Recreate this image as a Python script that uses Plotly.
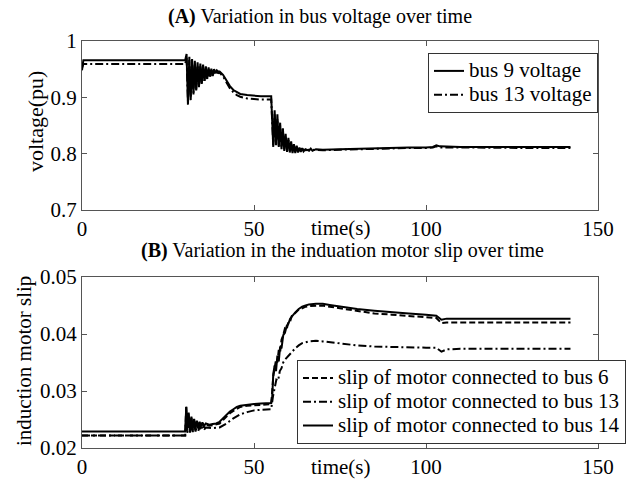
import plotly.graph_objects as go

# ---------------- (A) bus voltages ----------------
t_bus9 = [0, 0.4, 30.0, 30.4, 30.8, 31.2, 31.6, 32.0, 32.4, 32.8, 33.2, 33.6, 34.0, 34.4, 34.8,
          35.2, 35.6, 36.0, 36.4, 36.8, 37.2, 37.6, 38.0, 38.4, 38.8, 39.2, 39.6, 40.0,
          41, 42, 43, 44, 45, 46, 48, 50, 52, 55.0,
          55.3, 55.6, 56.0, 56.4, 56.8, 57.2, 57.6, 58.0, 58.4, 58.8, 59.2, 59.6, 60.0, 60.4,
          60.8, 61.2, 61.6, 62.0, 62.4, 62.8, 63.2, 63.6, 64.0, 64.4, 65, 66, 66.5, 67, 68,
          70, 75, 80, 85, 90, 95, 100, 102, 103, 104, 110, 120, 130, 142]
v_bus9 = [0.948, 0.966, 0.966, 0.977, 0.887, 0.972, 0.895, 0.968, 0.905, 0.965, 0.912, 0.962,
          0.918, 0.960, 0.924, 0.958, 0.929, 0.955, 0.933, 0.953, 0.937, 0.951, 0.940, 0.950,
          0.943, 0.948, 0.946, 0.946,
          0.940, 0.930, 0.920, 0.913, 0.909, 0.906, 0.904, 0.903, 0.902, 0.902,
          0.860, 0.812, 0.877, 0.815, 0.870, 0.812, 0.855, 0.808, 0.845, 0.805, 0.835, 0.803,
          0.828, 0.802, 0.822, 0.801, 0.817, 0.801, 0.814, 0.802, 0.811, 0.803, 0.810, 0.804,
          0.808, 0.805, 0.809, 0.805, 0.808,
          0.807, 0.808, 0.809, 0.810, 0.810, 0.811, 0.811, 0.812, 0.815, 0.813, 0.812, 0.812,
          0.811, 0.812]

t_bus13 = [0, 0.4, 30.0, 30.4, 30.8, 31.2, 31.6, 32.0, 32.4, 32.8, 33.2, 33.6, 34.0, 34.4,
           34.8, 35.2, 35.6, 36.0, 36.4, 36.8, 37.2, 37.6, 38.0, 38.4, 38.8, 39.2, 39.6, 40.0,
           41, 42, 43, 44, 45, 46, 48, 50, 52, 55.0,
           55.3, 55.6, 56.0, 56.4, 56.8, 57.2, 57.6, 58.0, 58.4, 58.8, 59.2, 59.6, 60.0, 60.4,
           60.8, 61.2, 61.6, 62.0, 62.4, 62.8, 63.2, 63.6, 64.0, 65, 66, 68,
           70, 75, 80, 85, 90, 95, 100, 102, 103, 104, 110, 120, 130, 142]
v_bus13 = [0.952, 0.959, 0.959, 0.970, 0.893, 0.966, 0.900, 0.962, 0.908, 0.959, 0.914,
           0.957, 0.920, 0.955, 0.925, 0.953, 0.929, 0.951, 0.932, 0.949, 0.935, 0.947, 0.938,
           0.946, 0.940, 0.945, 0.943, 0.944,
           0.937, 0.926, 0.916, 0.909, 0.904, 0.901, 0.898, 0.897, 0.896, 0.896,
           0.855, 0.815, 0.870, 0.817, 0.862, 0.814, 0.850, 0.810, 0.840, 0.808, 0.831, 0.806,
           0.824, 0.805, 0.819, 0.804, 0.815, 0.804, 0.812, 0.805, 0.810, 0.805, 0.808,
           0.806, 0.807, 0.806,
           0.806, 0.807, 0.808, 0.809, 0.809, 0.810, 0.810, 0.811, 0.813, 0.811, 0.811, 0.810,
           0.810, 0.810]

# ---------------- (B) induction motor slip ----------------
t_bus6 = [0, 30.0, 30.3, 30.6, 31.0, 31.4, 31.8, 32.2, 32.6, 33.0, 33.4, 33.8, 34.2, 34.6,
          35.0, 35.5, 36, 37, 38, 39, 40, 41, 42, 43, 44, 45, 46, 48, 50, 52, 55.0,
          55.3, 55.6, 56.0, 56.4, 56.8, 57.2, 57.6, 58.0, 58.5, 59.0, 59.5, 60.0, 60.5, 61,
          62, 63, 64, 65, 66, 68, 70, 72, 75, 80, 85, 90, 95, 100, 103, 104.5, 106, 142]
s_bus6 = [0.0222, 0.0222, 0.0275, 0.0230, 0.0260, 0.0229, 0.0253, 0.0231, 0.0249, 0.0233,
          0.0246, 0.0234, 0.0244, 0.0235, 0.0243, 0.0236, 0.0241, 0.0239, 0.0240, 0.0241,
          0.0243, 0.0249, 0.0255, 0.0261, 0.0265, 0.0269, 0.0272, 0.0274, 0.0275, 0.0276,
          0.0277,
          0.0300, 0.0325, 0.0340, 0.0355, 0.0350, 0.0372, 0.0368, 0.0390, 0.0398, 0.0410,
          0.0408, 0.0422, 0.0422, 0.0432, 0.0437, 0.0443, 0.0445, 0.0448, 0.0449, 0.0450,
          0.0450, 0.0448, 0.0445, 0.0440, 0.0436, 0.0434, 0.0432, 0.0430, 0.0428, 0.0419,
          0.0420, 0.0420]

t_bus13s = [0, 30.0, 30.3, 30.6, 31.0, 31.4, 31.8, 32.2, 32.6, 33.0, 33.4, 33.8, 34.2, 34.6,
            35.0, 35.5, 36, 37, 38, 40, 42, 44, 46, 48, 50, 52, 55.0,
            55.5, 56, 56.5, 57, 57.5, 58, 58.5, 59, 60, 61, 62, 63, 64, 66, 68, 70, 75, 80,
            85, 90, 100, 103, 104.5, 106, 110, 142]
s_bus13s = [0.0222, 0.0222, 0.0255, 0.0226, 0.0248, 0.0227, 0.0244, 0.0228, 0.0241, 0.0229,
            0.0239, 0.0230, 0.0238, 0.0231, 0.0237, 0.0232, 0.0236, 0.0235, 0.0235, 0.0236,
            0.0243, 0.0252, 0.0259, 0.0263, 0.0266, 0.0267, 0.0268,
            0.0290, 0.0305, 0.0320, 0.0318, 0.0335, 0.0340, 0.0350, 0.0355, 0.0362, 0.0368,
            0.0375, 0.0380, 0.0384, 0.0387, 0.0388, 0.0387, 0.0383, 0.0380, 0.0378, 0.0377,
            0.0376, 0.0376, 0.0369, 0.0373, 0.0374, 0.0374]

t_bus14 = [0, 30.0, 30.3, 30.6, 31.0, 31.4, 31.8, 32.2, 32.6, 33.0, 33.4, 33.8, 34.2, 34.6,
           35.0, 35.5, 36, 37, 38, 39, 40, 41, 42, 43, 44, 45, 46, 48, 50, 52, 55.0,
           55.3, 55.6, 56.0, 56.4, 56.8, 57.2, 57.6, 58.0, 58.5, 59.0, 59.5, 60.0, 60.5, 61,
           62, 63, 64, 65, 66, 68, 70, 72, 75, 80, 85, 90, 95, 100, 103, 104.5, 106, 110, 142]
s_bus14 = [0.0229, 0.0229, 0.0272, 0.0235, 0.0262, 0.0232, 0.0255, 0.0234, 0.0251, 0.0236,
           0.0248, 0.0237, 0.0246, 0.0238, 0.0245, 0.0239, 0.0243, 0.0241, 0.0242, 0.0243,
           0.0246, 0.0252, 0.0258, 0.0264, 0.0268, 0.0272, 0.0274, 0.0276, 0.0277, 0.0278,
           0.0279,
           0.0290, 0.0330, 0.0345, 0.0335, 0.0362, 0.0352, 0.0378, 0.0375, 0.0398, 0.0402,
           0.0414, 0.0418, 0.0427, 0.0431, 0.0438, 0.0444, 0.0448, 0.0450, 0.0452, 0.0453,
           0.0453, 0.0451, 0.0448, 0.0444, 0.0441, 0.0438, 0.0436, 0.0434, 0.0432, 0.0425,
           0.0427, 0.0427, 0.0427]

x_ticks = [0, 50, 100, 150]
y_ticks_a = [0.7, 0.8, 0.9, 1.0]
y_ticks_a_text = ["0.7", "0.8", "0.9", "1"]
y_ticks_b = [0.02, 0.03, 0.04, 0.05]
y_ticks_b_text = ["0.02", "0.03", "0.04", "0.05"]

FONT = "'Liberation Serif', 'Times New Roman', Times, serif"
AX = "#555555"
FS = 21


def leg(name):
    return "<span style='font-size:21px'>" + name + "</span>"


fig = go.Figure()
fig.add_trace(go.Scatter(x=t_bus9, y=v_bus9, mode="lines", name=leg("bus 9 voltage"),
                         line=dict(color="black", width=2, dash="solid"),
                         xaxis="x", yaxis="y", legend="legend"))
fig.add_trace(go.Scatter(x=t_bus13, y=v_bus13, mode="lines", name=leg("bus 13 voltage"),
                         line=dict(color="black", width=2, dash="8px,3px,2px,3px"),
                         xaxis="x", yaxis="y", legend="legend"))
fig.add_trace(go.Scatter(x=t_bus6, y=s_bus6, mode="lines",
                         name=leg("slip of motor connected to bus 6"),
                         line=dict(color="black", width=2, dash="6px,3px"),
                         xaxis="x2", yaxis="y2", legend="legend2"))
fig.add_trace(go.Scatter(x=t_bus13s, y=s_bus13s, mode="lines",
                         name=leg("slip of motor connected to bus 13"),
                         line=dict(color="black", width=2, dash="8px,3px,2px,3px"),
                         xaxis="x2", yaxis="y2", legend="legend2"))
fig.add_trace(go.Scatter(x=t_bus14, y=s_bus14, mode="lines",
                         name=leg("slip of motor connected to bus 14"),
                         line=dict(color="black", width=2, dash="solid"),
                         xaxis="x2", yaxis="y2", legend="legend2"))

axis_common = dict(showline=True, linecolor=AX, linewidth=1, mirror="ticks", ticks="inside",
                   ticklen=5, tickcolor=AX, showgrid=False, zeroline=False, automargin=False,
                   tickfont=dict(family=FONT, size=FS, color="black"))

fig.update_layout(
    width=628, height=484,
    margin=dict(l=82, r=30, t=41, b=36, autoexpand=False),
    paper_bgcolor="white", plot_bgcolor="white",
    font=dict(family=FONT, size=FS, color="black"),
    xaxis=dict(domain=[0, 1], range=[0, 150], tickvals=x_ticks, anchor="y", **axis_common),
    yaxis=dict(domain=[0.5848, 1], range=[0.7, 1.0], tickvals=y_ticks_a,
               ticktext=y_ticks_a_text, anchor="x", **axis_common),
    xaxis2=dict(domain=[0, 1], range=[0, 150], tickvals=x_ticks, anchor="y2", **axis_common),
    yaxis2=dict(domain=[0, 0.4201], range=[0.02, 0.05], tickvals=y_ticks_b,
                ticktext=y_ticks_b_text, anchor="x2", **axis_common),
    legend=dict(x=1.0, y=(448 - 53) / 407, xanchor="right", yanchor="top", bgcolor="white",
                bordercolor="#333333", borderwidth=1,
                font=dict(family=FONT, size=16, color="black")),
    legend2=dict(x=(297 - 82) / 516, y=(448 - 360) / 407, xanchor="left", yanchor="top",
                 bgcolor="white", bordercolor="#333333", borderwidth=1,
                 font=dict(family=FONT, size=16, color="black")),
    showlegend=True,
    hovermode=False,
    annotations=[
        dict(text="<b>(A)</b> Variation in bus voltage over time", x=(320 - 82) / 516,
             y=(448 - 16) / 407, xref="paper", yref="paper", showarrow=False,
             font=dict(family=FONT, size=20), xanchor="center", yanchor="middle"),
        dict(text="<b>(B)</b> Variation in the induation motor slip over time",
             x=(342 - 82) / 516, y=(448 - 250) / 407, xref="paper", yref="paper",
             showarrow=False, font=dict(family=FONT, size=20), xanchor="center",
             yanchor="middle"),
        dict(text="time(s)", x=(340 - 82) / 516, y=(448 - 228) / 407, xref="paper",
             yref="paper", showarrow=False, font=dict(family=FONT, size=FS),
             xanchor="center", yanchor="middle"),
        dict(text="time(s)", x=(340 - 82) / 516, y=(448 - 467) / 407, xref="paper",
             yref="paper", showarrow=False, font=dict(family=FONT, size=FS),
             xanchor="center", yanchor="middle"),
        dict(text="voltage(pu)", x=(35 - 82) / 516, y=(448 - 122) / 407, xref="paper",
             yref="paper", showarrow=False, textangle=-90, font=dict(family=FONT, size=22),
             xanchor="center", yanchor="middle"),
        dict(text="induction motor slip", x=(24 - 82) / 516, y=(448 - 361) / 407,
             xref="paper", yref="paper", showarrow=False, textangle=-90,
             font=dict(family=FONT, size=FS), xanchor="center", yanchor="middle"),
    ],
)

# remove the default 8px page margin so the 628x484 figure fills the window exactly
fig.write_html("out.html", config={"displayModeBar": False},
               post_script="document.body.style.margin='0';")
